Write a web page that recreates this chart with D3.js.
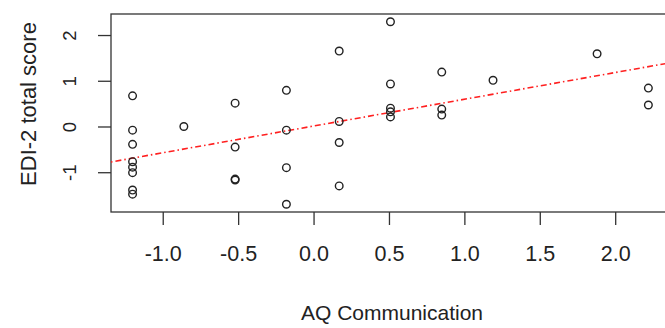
<!DOCTYPE html>
<html lang="en">
<head>
    <meta charset="UTF-8">
    <title>EDI-2 vs AQ Communication</title>
    <script src="https://d3js.org/d3.v7.min.js"></script>
    <style>
        body { margin: 0; background: #fff; overflow: hidden; }
        svg { display: block; font-family: "Liberation Sans", Arial, sans-serif; }
    </style>
</head>
<body>
<svg id="chart" width="665" height="328"></svg>
<script>
    // AQ Communication (standardised) and EDI-2 total score (standardised)
    const aqValues = [
        -1.2, -1.2, -1.2, -1.2, -1.2, -1.2, -1.2, -1.2,
        -0.86,
        -0.52, -0.52, -0.52, -0.52,
        -0.18, -0.18, -0.18, -0.18,
        0.17, 0.17, 0.17, 0.17,
        0.51, 0.51, 0.51, 0.51, 0.51,
        0.85, 0.85, 0.85,
        1.19,
        1.88,
        2.22, 2.22
    ];
    const ediValues = [
        0.67, -0.08, -0.39, -0.77, -0.89, -1.01, -1.39, -1.48,
        0.0,
        0.51, -0.45, -1.15, -1.17,
        0.79, -0.08, -0.90, -1.70,
        1.65, 0.11, -0.35, -1.30,
        2.29, 0.93, 0.40, 0.32, 0.21,
        1.19, 0.38, 0.25,
        1.01,
        1.59,
        0.84, 0.47
    ];
    const xTicks = [-1.0, -0.5, 0.0, 0.5, 1.0, 1.5, 2.0];
    const yTicks = [-1, 0, 1, 2];
    // fitted line: intercept, slope
    const fit = [0.01, 0.585];

    const svg = d3.select("#chart");
    const plotLeft = 111, plotTop = 14, plotBottom = 212, plotRight = 671;

    const x = d3.scaleLinear().domain([-1.343, 2.37]).range([plotLeft, plotRight]);
    const y = d3.scaleLinear().domain([-1.87, 2.46]).range([plotBottom, plotTop]);

    // axes (plain hyphen for negatives, like R)
    const xAxis = svg.append("g")
        .attr("transform", `translate(0,${plotBottom})`)
        .call(d3.axisBottom(x).tickValues(xTicks).tickSize(13)
            .tickFormat(d => d.toFixed(1)));
    xAxis.select(".domain").remove();
    xAxis.selectAll("line").attr("stroke", "#333").attr("stroke-width", 1.3);
    xAxis.selectAll("text").attr("font-size", 21.5).attr("fill", "#222")
        .attr("font-family", "Liberation Sans, Arial, sans-serif")
        .attr("dy", null).attr("y", 49);

    const yAxis = svg.append("g")
        .attr("transform", `translate(${plotLeft},0)`)
        .call(d3.axisLeft(y).tickValues(yTicks).tickSize(13).tickFormat(d => String(d)));
    yAxis.select(".domain").remove();
    yAxis.selectAll("line").attr("stroke", "#333").attr("stroke-width", 1.3);
    yAxis.selectAll("text")
        .attr("font-size", 18.5).attr("fill", "#222")
        .attr("font-family", "Liberation Sans, Arial, sans-serif")
        .attr("x", null).attr("dy", null)
        .attr("text-anchor", "middle")
        .attr("transform", "translate(-35,0) rotate(-90)");

    // plot frame
    svg.append("rect")
        .attr("x", plotLeft).attr("y", plotTop)
        .attr("width", plotRight - plotLeft).attr("height", plotBottom - plotTop)
        .attr("fill", "none").attr("stroke", "#333").attr("stroke-width", 1.3);

    // regression line, clipped to frame
    svg.append("clipPath").attr("id", "plotClip")
        .append("rect").attr("x", plotLeft).attr("y", plotTop)
        .attr("width", plotRight - plotLeft).attr("height", plotBottom - plotTop);

    const [x0, x1] = x.domain();
    svg.append("line")
        .attr("clip-path", "url(#plotClip)")
        .attr("x1", x(x0)).attr("y1", y(fit[0] + fit[1] * x0))
        .attr("x2", x(x1)).attr("y2", y(fit[0] + fit[1] * x1))
        .attr("stroke", "#ff2020").attr("stroke-width", 1.6)
        .attr("stroke-dasharray", "1.5,3,6,3");

    // points
    svg.append("g")
        .selectAll("circle")
        .data(aqValues.map((v, i) => [v, ediValues[i]]))
        .join("circle")
        .attr("cx", d => x(d[0]))
        .attr("cy", d => y(d[1]))
        .attr("r", 3.8)
        .attr("fill", "none")
        .attr("stroke", "#222")
        .attr("stroke-width", 1.4);

    // axis titles
    svg.append("text")
        .attr("x", 392).attr("y", 320)
        .attr("text-anchor", "middle")
        .attr("font-size", 21).attr("fill", "#222")
        .text("AQ Communication");

    svg.append("text")
        .attr("transform", "translate(36,104) rotate(-90)")
        .attr("text-anchor", "middle")
        .attr("font-size", 22).attr("fill", "#222")
        .text("EDI-2 total score");
</script>
</body>
</html>
